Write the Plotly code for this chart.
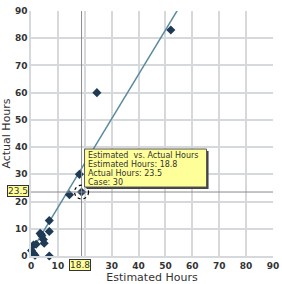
import plotly.graph_objects as go

# ---- data ----
est_hours = [52.0, 24.5, 18.0, 14.3, 18.8, 6.8, 6.8, 6.8, 3.4, 4.0, 4.6, 4.9, 3.8, 0.9, 1.9, 0.2, 0.9, 1.5]
act_hours = [83.0, 60.0, 30.0, 22.5, 23.5, 13.0, 9.0, 0.0, 8.3, 7.4, 6.1, 4.7, 8.0, 4.0, 4.3, 2.0, 1.0, 0.3]
trend_slope = 1.63
trend_intercept = 1.5
trend_x = [0, 90]
tick_vals = [0, 10, 20, 30, 40, 50, 60, 70, 80, 90]
x_tick_text = ["0", "10", "", "30", "40", "50", "60", "70", "80", "90"]  # "20" hidden under the 18.8 label
y_tick_text = ["0", "10", "20", "30", "40", "50", "60", "70", "80", "90"]

hl_est = 18.8
hl_act = 23.5
hl_case = 30
tooltip_lines = ["Estimated\u00a0 vs. Actual Hours",
                 f"Estimated Hours: {hl_est}",
                 f"Actual Hours: {hl_act}",
                 f"Case: {hl_case}"]

trend_y = [trend_slope * x + trend_intercept for x in trend_x]

fig = go.Figure()
fig.add_trace(go.Scatter(x=trend_x, y=trend_y, mode="lines",
                         line=dict(color="#5A8AA0", width=1.5), hoverinfo="skip"))
fig.add_trace(go.Scatter(x=est_hours, y=act_hours, mode="markers",
                         marker=dict(symbol="diamond", size=7, color="#1E3A55"),
                         cliponaxis=False))

GRID = "#D6D9DC"
axis_common = dict(range=[0, 90], tickvals=tick_vals, showgrid=True, gridcolor=GRID,
                   gridwidth=1.5, zeroline=False, showline=True, linecolor=GRID,
                   linewidth=1.5, mirror=False, ticks="", automargin=False,
                   tickfont=dict(family="DejaVu Sans", size=9, color="#333333", weight="bold"),
                   title_font=dict(family="DejaVu Sans", size=11, color="#333333"))
fig.update_xaxes(**axis_common, ticktext=x_tick_text, title_text="Estimated Hours", title_standoff=2)
fig.update_yaxes(**axis_common, ticktext=y_tick_text, title_text="Actual Hours", title_standoff=2)

# crosshair
fig.add_shape(type="line", x0=hl_est, x1=hl_est, y0=0, y1=90, xref="x", yref="y",
              line=dict(color="#8A8A8A", width=1))
fig.add_shape(type="line", x0=0, x1=90, y0=hl_act, y1=hl_act, xref="x", yref="y",
              line=dict(color="#8A8A8A", width=1))
# dashed ring around highlighted point
fig.add_shape(type="circle", xref="x", yref="y", xsizemode="pixel", ysizemode="pixel",
              xanchor=hl_est, yanchor=hl_act, x0=-7, x1=7, y0=-7, y1=7,
              line=dict(color="#000000", width=1.2, dash="dot"))

# tooltip shadow + box
fig.add_shape(type="rect", xref="x", yref="y", xsizemode="pixel", ysizemode="pixel",
              xanchor=hl_est, yanchor=hl_act, x0=5, x1=127, y0=3, y1=41,
              fillcolor="#444444", line=dict(width=0), layer="above")
fig.add_shape(type="rect", xref="x", yref="y", xsizemode="pixel", ysizemode="pixel",
              xanchor=hl_est, yanchor=hl_act, x0=3, x1=125, y0=5, y1=43,
              fillcolor="#FFFF99", line=dict(color="#555555", width=1), layer="above")
for i, t in enumerate(tooltip_lines):
    fig.add_annotation(x=hl_est, y=hl_act, xref="x", yref="y", text=t, showarrow=False,
                       xanchor="left", yanchor="middle", xshift=4, yshift=37 - 9.3 * i,
                       font=dict(family="DejaVu Sans", size=8, color="#333333"))

# axis value labels
fig.add_annotation(x=hl_est, y=0, xref="x", yref="paper", text=f"{hl_est}", showarrow=False,
                   yanchor="top", xshift=-2, yshift=-3, bgcolor="#FFFF99", bordercolor="#333333",
                   borderwidth=1, borderpad=0,
                   font=dict(family="DejaVu Sans", size=9, color="#333333"))
fig.add_annotation(x=0, y=hl_act, xref="paper", yref="y", text=f"{hl_act}", showarrow=False,
                   xanchor="right", xshift=-2, yshift=1, bgcolor="#FFFF99", bordercolor="#333333",
                   borderwidth=1, borderpad=0,
                   font=dict(family="DejaVu Sans", size=9, color="#333333"))

fig.update_layout(width=282, height=284, margin=dict(l=31, r=9, t=11, b=28),
                  paper_bgcolor="white", plot_bgcolor="white", showlegend=False)
fig.write_html("out.html")
